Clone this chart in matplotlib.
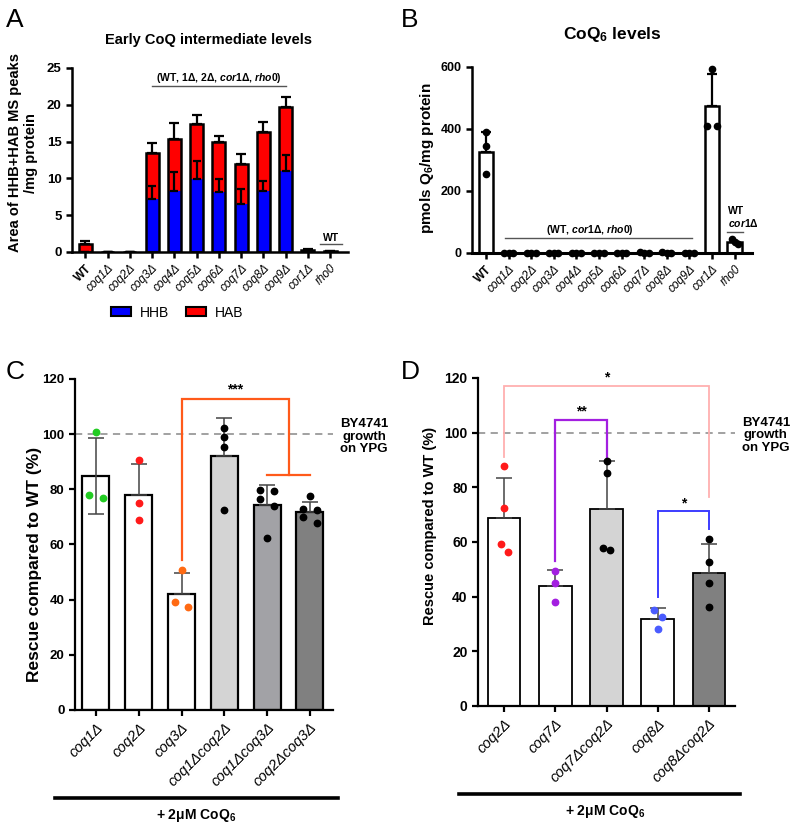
import matplotlib.pyplot as plt
from matplotlib.lines import Line2D
from matplotlib.patches import Patch

plt.rcParams["font.family"] = ["Liberation Sans", "DejaVu Sans"]
plt.rcParams["mathtext.fontset"] = "custom"
plt.rcParams["mathtext.rm"] = "Liberation Sans:bold"
plt.rcParams["mathtext.it"] = "Liberation Sans:italic:bold"
plt.rcParams["mathtext.bf"] = "Liberation Sans:bold"

# ---- panel A: early CoQ intermediates (stacked HHB + HAB)
A_LABELS = ["WT", "coq1Δ", "coq2Δ", "coq3Δ", "coq4Δ", "coq5Δ", "coq6Δ",
            "coq7Δ", "coq8Δ", "coq9Δ", "cor1Δ", "rho0"]
A_HHB = [0.05, 0, 0, 7.2, 8.3, 9.9, 8.2, 6.5, 8.3, 11.0, 0.15, 0.05]
A_HHB_SD = [0, 0, 0, 1.8, 2.6, 2.5, 1.7, 2.1, 1.4, 2.2, 0, 0]
A_HAB = [1.05, 0, 0, 6.25, 7.05, 7.5, 6.75, 5.5, 7.95, 8.65, 0.15, 0.05]
A_TOTAL_SD = [0.45, 0, 0, 1.3, 2.2, 1.2, 0.75, 1.3, 1.4, 1.4, 0.15, 0.1]

# ---- panel B: CoQ6 levels
B_LABELS = A_LABELS
B_MEAN = [325, 0, 0, 0, 0, 0, 0, 1.5, 1.5, 0, 474, 36]
B_SD = [65, 0, 0, 0, 0, 0, 0, 1, 1, 0, 102, 0]
B_POINTS = [[390, 345, 255], [0, 0, 0], [0, 0, 0], [0, 0, 0], [0, 0, 0],
            [0, 0, 0], [0, 0, 0], [3, 1, 0.5], [2, 1.5, 0.5], [0, 0, 0],
            [592, 409, 409], [44, 36, 28]]

# ---- panel C: rescue with 2 uM CoQ6
C_LABELS = ["coq1Δ", "coq2Δ", "coq3Δ", "coq1Δcoq2Δ", "coq1Δcoq3Δ", "coq2Δcoq3Δ"]
C_MEAN = [84.8, 78.0, 42.2, 91.9, 74.3, 71.8]
C_SD = [13.7, 11.1, 7.4, 13.9, 7.4, 3.7]
C_POINTS = [[100.6, 77.8, 76.7], [90.5, 74.9, 68.8], [50.6, 39.2, 37.2],
            [102.2, 98.8, 95.4, 72.4], [79.9, 79.5, 76.4, 73.9, 62.4],
            [77.6, 73.0, 72.4, 70.0, 67.9]]

# ---- panel D
D_LABELS = ["coq2Δ", "coq7Δ", "coq7Δcoq2Δ", "coq8Δ", "coq8Δcoq2Δ"]
D_MEAN = [68.7, 43.9, 72.1, 31.7, 48.5]
D_SD = [14.6, 5.9, 17.7, 4.0, 10.8]
D_POINTS = [[87.7, 72.4, 59.1, 56.3], [49.4, 44.9, 38.2],
            [89.6, 85.4, 57.9, 57.1], [35.1, 32.7, 28.2],
            [61.1, 52.8, 44.9, 36.3]]

# style: jitter of dots, colours
B_OFFSETS = [[0, 0, 0]] + [[-0.2, 0, 0.2]] * 9 + [[0, -0.22, 0.22], [-0.12, 0, 0.15]]
C_OFFSETS = [[0, -0.16, 0.16], [0, 0, 0], [0, -0.16, 0.16], [0, 0, 0, 0],
             [-0.17, 0.17, -0.17, 0.17, 0], [0, -0.17, 0.17, -0.17, 0.17]]
D_OFFSETS = [[0, 0, -0.07, 0.07], [0, 0, 0], [0, 0, -0.07, 0.07],
             [-0.07, 0.08, 0], [0, 0, 0, 0]]
C_FILL = ["white", "white", "white", "#d4d4d4", "#a2a2a6", "#808080"]
C_DOTS = ["#22cc22", "#ff1a1a", "#ff6a13", "black", "black", "black"]
D_FILL = ["white", "white", "#d4d4d4", "white", "#808080"]
D_DOTS = ["#ff1a1a", "#a31fe0", "black", "#4a5cff", "black"]
ORANGE = "#ff5a1a"


def style_axes(ax, ytick_size, lw=1.6):
    for s in ("top", "right"):
        ax.spines[s].set_visible(False)
    for s in ("left", "bottom"):
        ax.spines[s].set_linewidth(lw)
    ax.tick_params(direction="out", length=4, width=lw, labelsize=ytick_size)
    for t in ax.get_yticklabels():
        t.set_fontweight("bold")


def set_xlabels(ax, labels, size, bold_wt=True):
    ax.set_xticks(range(len(labels)))
    ax.set_xticklabels(labels, rotation=45, ha="right", va="top",
                       rotation_mode="anchor", style="italic", fontsize=size)
    for t in ax.get_xticklabels():
        if bold_wt and t.get_text() == "WT":
            t.set_fontstyle("normal")
            t.set_fontweight("bold")


def bracket(ax, x1, x2, y, y1, y2, color, lw, label, label_dy=2.5, size=10):
    ax.plot([x1, x1, x2, x2], [y1, y, y, y2], color=color, lw=lw,
            solid_joinstyle="miter", clip_on=False)
    ax.text((x1 + x2) / 2, y + label_dy, label, ha="center", va="center",
            fontsize=size, fontweight="bold", clip_on=False)


def plot_panel_a(ax):
    x = range(len(A_LABELS))
    tops = [h + r for h, r in zip(A_HHB, A_HAB)]
    ax.bar(x, A_HHB, width=0.58, color="#0000ff", edgecolor="none", zorder=2)
    ax.bar(x, A_HAB, width=0.58, bottom=A_HHB, color="#ff0000",
           edgecolor="none", zorder=2)
    ax.errorbar(x, A_HHB, yerr=[[0] * len(x), A_HHB_SD], fmt="none",
                ecolor="black", elinewidth=1.6, capsize=3, capthick=1.6, zorder=3)
    ax.errorbar(x, tops, yerr=[[0] * len(x), A_TOTAL_SD], fmt="none",
                ecolor="black", elinewidth=1.6, capsize=3.5, capthick=1.6, zorder=1)
    ax.bar(x, tops, width=0.58, fill=False, edgecolor="black", lw=1.8, zorder=4)

    ax.set_xlim(-0.6, 11.8)
    ax.set_ylim(0, 25)
    ax.set_yticks([0, 5, 10, 15, 20, 25])
    style_axes(ax, 9.5, lw=1.8)
    set_xlabels(ax, A_LABELS, 8.5)
    ax.set_ylabel("Area of HHB+HAB MS peaks\n/mg protein", fontsize=10.5,
                  fontweight="bold", linespacing=1.1)
    ax.yaxis.set_label_coords(-0.125, 0.54)
    ax.text(0.493, 1.152, "Early CoQ intermediate levels", transform=ax.transAxes,
            ha="center", va="center", fontsize=10.5, fontweight="bold")

    ax.plot([3, 9], [22.5, 22.5], color="#555555", lw=1.0)
    ax.text(6, 23.7, r"(WT, $\mathit{1Δ}$, $\mathit{2Δ}$, $\mathit{cor1Δ}$, $\mathit{rho0}$)",
            ha="center", va="center", fontsize=7.5, fontweight="bold")
    ax.plot([10.55, 11.55], [1.1, 1.1], color="#555555", lw=1.0)
    ax.text(11.05, 1.95, "WT", ha="center", va="center", fontsize=7.5,
            fontweight="bold")

    handles = [Patch(facecolor="#0000ff", edgecolor="black", lw=1.5, label="HHB"),
               Patch(facecolor="#ff0000", edgecolor="black", lw=1.5, label="HAB")]
    ax.legend(handles=handles, loc="center", bbox_to_anchor=(0.38, -0.33),
              ncol=2, frameon=False, fontsize=10, handlelength=1.5,
              handleheight=0.6, columnspacing=1.2, handletextpad=0.6)


def plot_panel_b(ax):
    x = list(range(len(B_LABELS)))
    ax.errorbar(x, B_MEAN, yerr=[[0] * len(x), B_SD], fmt="none", ecolor="black",
                elinewidth=1.6, capsize=3.5, capthick=1.6, zorder=1)
    ax.bar(x, B_MEAN, width=0.66, color="white", edgecolor="black", lw=1.8, zorder=2)
    for xi, pts, offs in zip(x, B_POINTS, B_OFFSETS):
        ax.plot([xi + o for o in offs], pts, "o", color="black", ms=4.5,
                zorder=5, clip_on=False)

    ax.set_xlim(-0.62, 11.77)
    ax.set_ylim(0, 600)
    ax.set_yticks([0, 200, 400, 600])
    style_axes(ax, 9, lw=1.8)
    ax.spines["bottom"].set_linewidth(2.2)
    set_xlabels(ax, B_LABELS, 8.5)
    ax.set_ylabel("pmols Q$_6$/mg protein", fontsize=11, fontweight="bold")
    ax.yaxis.set_label_coords(-0.13, 0.51)
    ax.text(0.5, 1.172, "CoQ$_6$ levels", transform=ax.transAxes,
            ha="center", va="center", fontsize=12.5, fontweight="bold")

    ax.plot([0.85, 9.1], [49, 49], color="#555555", lw=1.0)
    ax.text(4.6, 75, r"(WT, $\mathit{cor1Δ}$, $\mathit{rho0}$)",
            ha="center", va="center", fontsize=7.5, fontweight="bold")
    ax.plot([10.65, 11.35], [67, 67], color="#555555", lw=1.0)
    ax.text(10.7, 136, "WT", ha="left", va="center", fontsize=7.5,
            fontweight="bold")
    ax.text(10.7, 98, r"$\mathit{cor1Δ}$", ha="left", va="center", fontsize=7.5)


def plot_rescue(ax, labels, mean, sd, points, offsets, fills, dots, width,
                lw, ytick, xtick, ylabel_size, label_xy, both_first=False):
    x = list(range(len(labels)))
    lower = [sd[0] if both_first else 0] + [0] * (len(x) - 1)
    ax.errorbar(x, mean, yerr=[lower, sd], fmt="none", ecolor="#444444",
                elinewidth=1.1, capsize=6, capthick=1.1, zorder=3)
    ax.bar(x, mean, width=width, color=fills, edgecolor="black", lw=lw, zorder=2)
    for xi, pts, offs, c in zip(x, points, offsets, dots):
        ax.plot([xi + o for o in offs], pts, "o", color=c, ms=4.6, zorder=5)
    ax.axhline(100, color="#9a9a9a", lw=1.3, ls=(0, (4, 3)), zorder=0)

    ax.set_ylim(0, 120)
    ax.set_yticks(range(0, 121, 20))
    style_axes(ax, ytick, lw=1.6)
    set_xlabels(ax, labels, xtick, bold_wt=False)
    ax.set_ylabel("Rescue compared to WT (%)", fontsize=ylabel_size,
                  fontweight="bold")
    ax.yaxis.set_label_coords(*label_xy)
    ax.text(1.12, 0.825, "BY4741\ngrowth\non YPG", transform=ax.transAxes,
            ha="center", va="center", fontsize=9.5, fontweight="bold",
            linespacing=1.05)


fig = plt.figure(figsize=(8.0, 8.3), dpi=100)
ax_a = fig.add_axes([0.09, 0.6964, 0.345, 0.2217])
ax_b = fig.add_axes([0.59, 0.6952, 0.35, 0.2241])
ax_c = fig.add_axes([0.09375, 0.1446, 0.3225, 0.3988])
ax_d = fig.add_axes([0.5975, 0.1494, 0.32125, 0.3952])

plot_panel_a(ax_a)
plot_panel_b(ax_b)

plot_rescue(ax_c, C_LABELS, C_MEAN, C_SD, C_POINTS, C_OFFSETS, C_FILL, C_DOTS,
            width=0.63, lw=1.6, ytick=9.5, xtick=10.5, ylabel_size=12.5,
            label_xy=(-0.128, 0.44), both_first=True)
ax_c.set_xlim(-0.49, 5.54)
bracket(ax_c, 2, 4.5, 112.6, 54.4, 85.3, ORANGE, 1.6, "***", label_dy=3.5)
ax_c.plot([4, 5], [85.3, 85.3], color=ORANGE, lw=1.6)

plot_rescue(ax_d, D_LABELS, D_MEAN, D_SD, D_POINTS, D_OFFSETS, D_FILL, D_DOTS,
            width=0.64, lw=1.3, ytick=10, xtick=10.5, ylabel_size=10.5,
            label_xy=(-0.16, 0.55))
ax_d.set_xlim(-0.51, 4.51)
bracket(ax_d, 0, 4, 116.9, 91.2, 76.5, "#ffb0b0", 1.3, "*", label_dy=3.4)
bracket(ax_d, 1, 2, 104.8, 53.0, 91.2, "#a31fe0", 1.6, "**", label_dy=2.8)
bracket(ax_d, 3, 4, 71.2, 40.0, 64.8, "#3c3cff", 1.4, "*", label_dy=2.8)

# "+ 2uM CoQ6" treatment bars under C and D
for x0, x1, y, xt, yt in [(55, 338, 798, 196, 815), (459, 740, 794, 605, 811)]:
    fig.add_artist(Line2D([x0 / 800, x1 / 800], [1 - y / 830, 1 - y / 830],
                          color="black", lw=2.6, transform=fig.transFigure))
    fig.text(xt / 800, 1 - yt / 830, "+ 2μM CoQ$_6$", ha="center", va="center",
             fontsize=10, fontweight="bold")

for letter, px, py in [("A", 15, 20), ("B", 410, 20), ("C", 15, 372), ("D", 410, 372)]:
    fig.text(px / 800, 1 - py / 830, letter, ha="center", va="center", fontsize=19)

fig.savefig("out.png", dpi=100)
